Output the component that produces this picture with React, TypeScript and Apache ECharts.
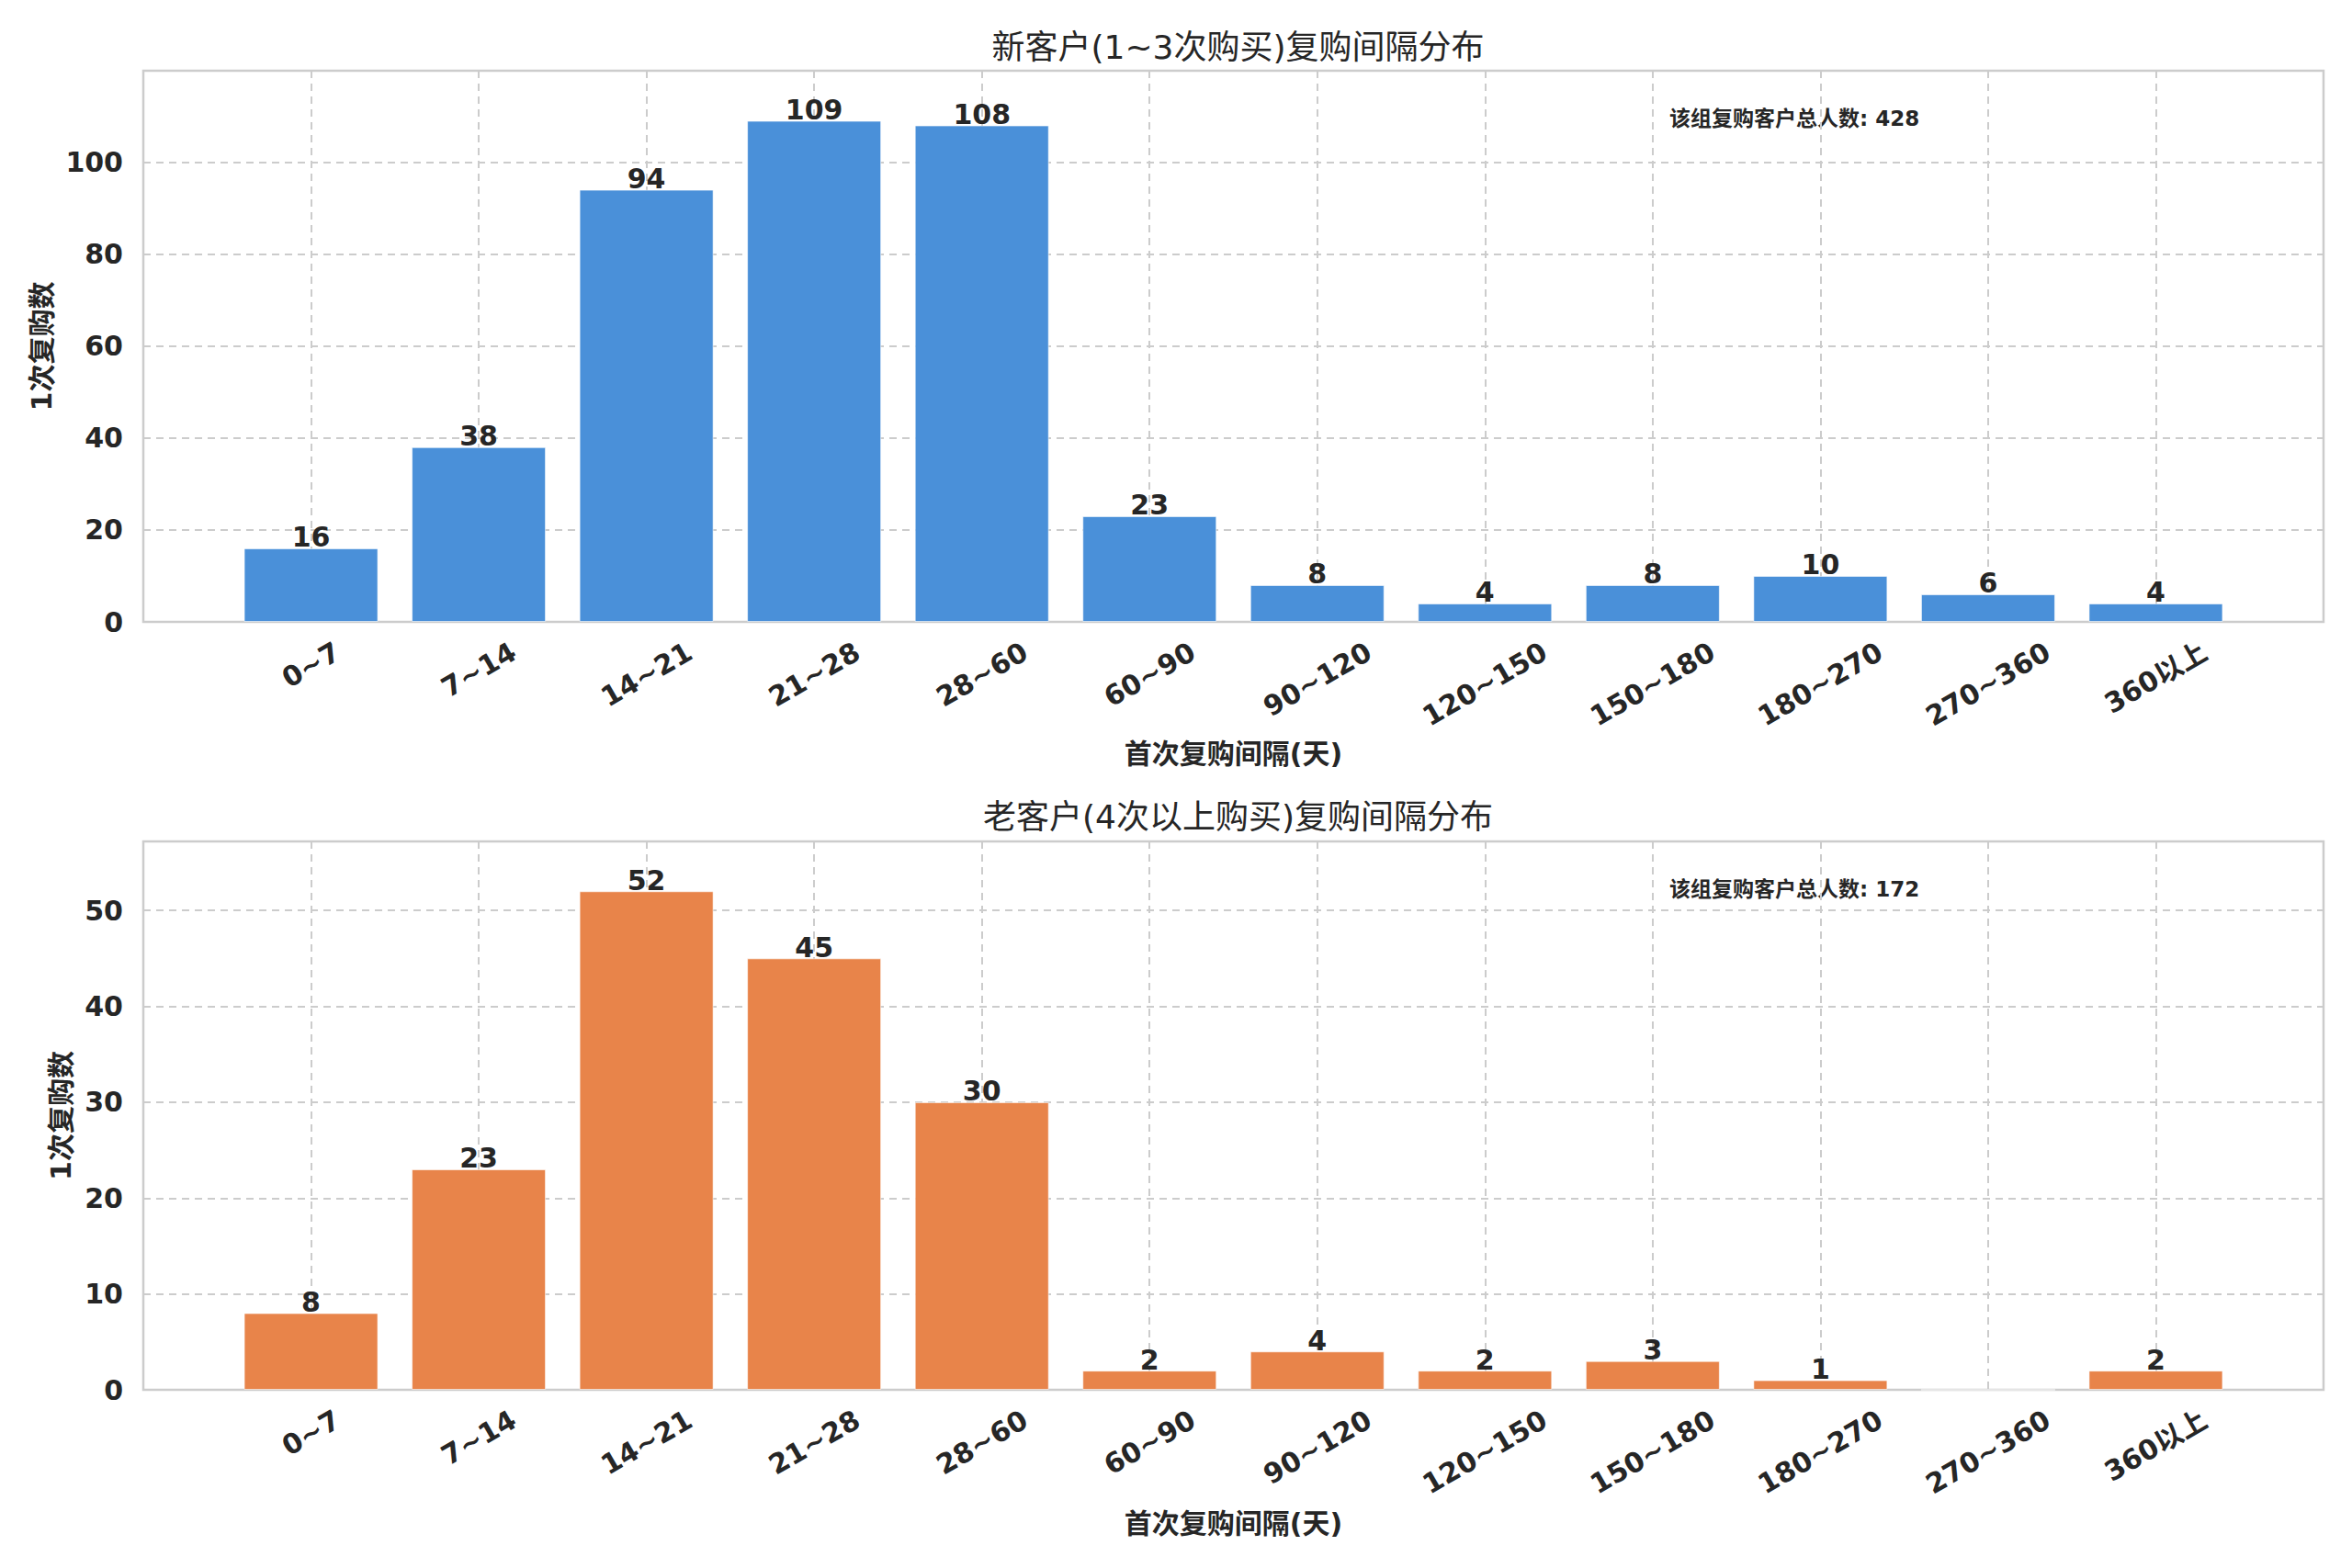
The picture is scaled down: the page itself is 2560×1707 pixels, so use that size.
import { useEffect, useRef } from 'react'
import * as echarts from 'echarts'

// interval buckets (days)
const categories = ['0~7', '7~14', '14~21', '21~28', '28~60', '60~90', '90~120', '120~150', '150~180', '180~270', '270~360', '360以上']
const lowFreqCounts = [16, 38, 94, 109, 108, 23, 8, 4, 8, 10, 6, 4]
const highFreqCounts = [8, 23, 52, 45, 30, 2, 4, 2, 3, 1, 0, 2]

const titles = ['新客户(1~3次购买)复购间隔分布', '老客户(4次以上购买)复购间隔分布']
const xName = '首次复购间隔(天)'
const yName = '1次复购数'
const totalLabel = '该组复购客户总人数'

const W = 2560
const H = 1707
const GRID_LEFT = 156
const GRID_W = 2373
const GRIDS = [
  { top: 77, height: 600 },
  { top: 916, height: 597 },
]
const TEXT = '#262626'
const FONT = '"DejaVu Sans", "Noto Sans CJK SC", sans-serif'
const COLORS = ['#4a90d9', '#e8844a']

export default function App() {
  const chartRef = useRef<HTMLDivElement>(null)

  useEffect(() => {
    if (!chartRef.current) return
    const chart = echarts.init(chartRef.current, undefined, { renderer: 'svg' })

    const sets = [lowFreqCounts, highFreqCounts]
    const barWidth = Math.round((GRID_W / 13) * 0.8)

    // rotated tick labels: matplotlib centres them and pushes longer ones lower,
    // emulate that with per-label padding (shift depends on text width)
    const ctx = document.createElement('canvas').getContext('2d')!
    ctx.font = `bold 30px ${FONT}`
    const labelStyle = { fontSize: 30, fontWeight: 'bold', color: TEXT, fontFamily: FONT }
    const rich: Record<string, any> = {}
    categories.forEach((c, k) => {
      const dy = ctx.measureText(c).width * 0.25
      rich['c' + k] = { ...labelStyle, padding: [Math.round(dy * 1.732), Math.round(dy), 0, 0] }
    })

    const grid = GRIDS.map(g => ({
      left: GRID_LEFT,
      top: g.top,
      width: GRID_W,
      height: g.height,
      show: true,
      borderColor: '#cccccc',
      borderWidth: 2.5,
      backgroundColor: '#ffffff',
    }))

    const xAxis = GRIDS.map((_, i) => ({
      type: 'value',
      gridIndex: i,
      min: -1,
      max: 12,
      interval: 1,
      name: xName,
      nameLocation: 'middle',
      nameGap: i === 0 ? 128 : 130,
      nameTextStyle: { fontSize: 30, fontWeight: 'bold', color: TEXT, fontFamily: FONT },
      axisLine: { show: false },
      axisTick: { show: false },
      axisLabel: {
        rotate: 30,
        align: 'center',
        verticalAlign: 'middle',
        margin: 30,
        ...labelStyle,
        rich,
        formatter: (v: number) => (categories[v] ? `{c${v}|${categories[v]}}` : ''),
      },
      splitLine: { show: true, lineStyle: { color: '#cccccc', width: 2, type: [8, 6] } },
    }))

    const yAxis = GRIDS.map((_, i) => {
      const maxVal = Math.max(...sets[i]) * 1.1
      return {
        type: 'value',
        gridIndex: i,
        min: 0,
        max: maxVal,
        interval: i === 0 ? 20 : 10,
        name: yName,
        nameLocation: 'middle',
        nameGap: i === 0 ? 94 : 73,
        nameTextStyle: { fontSize: 30, fontWeight: 'bold', color: TEXT, fontFamily: FONT },
        axisLine: { show: false },
        axisTick: { show: false },
        axisLabel: {
          showMaxLabel: false,
          margin: 22,
          ...labelStyle,
        },
        splitLine: { show: true, lineStyle: { color: '#cccccc', width: 2, type: [8, 6] } },
      }
    })

    const series = sets.map((vals, i) => ({
      type: 'bar',
      xAxisIndex: i,
      yAxisIndex: i,
      barWidth,
      data: vals.map((v, k) => [k, v]),
      itemStyle: { color: COLORS[i], borderColor: 'rgba(255,255,255,0.6)', borderWidth: 1 },
      label: {
        show: true,
        position: 'top',
        distance: -3,
        ...labelStyle,
        formatter: (p: any) => (p.value[1] ? String(p.value[1]) : ''),
      },
    }))

    const title = titles.map((t, i) => ({
      text: t,
      left: GRID_LEFT + GRID_W / 2,
      top: i === 0 ? 28 : 866,
      textAlign: 'center',
      textStyle: { fontSize: 36, fontWeight: 'normal', color: TEXT, fontFamily: FONT },
    }))

    const graphic = sets.map((vals, i) => ({
      type: 'text',
      x: GRID_LEFT + GRID_W * 0.7,
      y: i === 0 ? 129 : 968,
      style: {
        text: `${totalLabel}: ${vals.reduce((a, b) => a + b, 0)}`,
        font: `bold 23px ${FONT}`,
        fill: TEXT,
        align: 'left',
        verticalAlign: 'middle',
      },
    }))

    chart.setOption({
      animation: false,
      backgroundColor: '#ffffff',
      title,
      grid,
      xAxis,
      yAxis,
      series,
      graphic,
    })

    return () => {
      chart.dispose()
    }
  }, [])

  return (
    <div
      ref={chartRef}
      style={{ position: 'absolute', left: 0, top: 0, width: `${W}px`, height: `${H}px` }}
    />
  )
}
